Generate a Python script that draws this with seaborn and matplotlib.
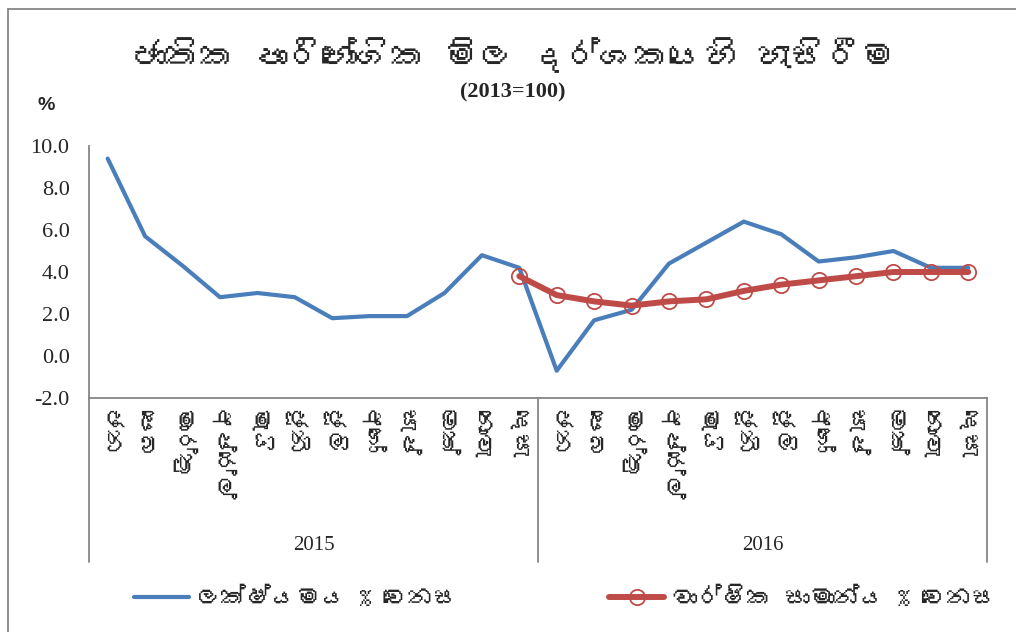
import matplotlib
matplotlib.use("Agg")
import matplotlib.pyplot as plt
import matplotlib.transforms as mtransforms
from matplotlib.lines import Line2D
from matplotlib import font_manager as fm
import seaborn as sns
import pandas as pd
import numpy as np

# Datos (variacion % del NCPI, 2013=100)
months = ["ජන", "පෙබ", "මාර්තු", "අප්රේල්", "මැයි", "ජූනි",
          "ජූලි", "අගෝ", "සැප්", "ඔක්", "නොවැ", "දෙසැ"]
years = ["2015", "2016"]
point_change = [9.4, 5.7, 4.3, 2.8, 3.0, 2.8, 1.8, 1.9, 1.9, 3.0, 4.8, 4.2,
                -0.7, 1.7, 2.2, 4.4, 5.4, 6.4, 5.8, 4.5, 4.7, 5.0, 4.2, 4.2]
annual_avg = [np.nan] * 11 + [3.8, 2.9, 2.6, 2.4, 2.6, 2.7, 3.1, 3.4, 3.6,
                              3.8, 4.0, 4.0, 4.0]

title = "ජාතික පාරිභෝගික මිල දර්ශකයෙහි හැසිරීම"
subtitle = "(2013=100)"
label_point = "ලක්ෂ්යමය % වෙනස"
label_avg = "වාර්ෂික සාමාන්ය % වෙනස"

# Buscar una fuente con glifos cingaleses (si existe)
sinhala_font = None
try:
    from fontTools.ttLib import TTFont
    for entry in fm.fontManager.ttflist:
        try:
            t = TTFont(entry.fname, fontNumber=0, lazy=True)
            cmap = t.getBestCmap()
            if cmap and 0x0D9A in cmap:
                sinhala_font = entry.name
                break
        except Exception:
            continue
except Exception:
    pass

sns.set_theme(style="white")
sin_family = ([sinhala_font] if sinhala_font else []) + ["DejaVu Sans"]
plt.rcParams["font.family"] = sin_family

df = pd.DataFrame({
    "idx": np.arange(24),
    "point": point_change,
    "avg": annual_avg,
})

fig = plt.figure(figsize=(10.16, 6.32), dpi=100)
W, H = 1016, 632
ax = fig.add_axes([89 / W, 1 - 398 / H, 898 / W, 252 / H])

blue = "#4A7EBB"
red = "#BE4B48"
sns.lineplot(data=df, x="idx", y="point", ax=ax, color=blue, linewidth=3.0)
sns.lineplot(data=df.dropna(), x="idx", y="avg", ax=ax, color=red,
             linewidth=4.3, marker="o", markersize=11, markerfacecolor="none",
             markeredgecolor=red, markeredgewidth=1.3)

ax.set_xlim(-0.5, 23.5)
ax.set_ylim(-2, 10)
ax.set_yticks(np.arange(-2, 10.1, 2))
ax.set_yticklabels([f"{v:.1f}" for v in np.arange(-2, 10.1, 2)],
                   family="Liberation Serif", fontsize=16)
ax.set_xticks(np.arange(24))
ax.set_xticklabels(months * 2, rotation=-90, fontsize=17, va="top", ha="center")
ax.tick_params(axis="both", length=0)
ax.tick_params(axis="y", pad=14)
ax.tick_params(axis="x", pad=8)
ax.set_xlabel("")
ax.set_ylabel("")

for side in ["top", "right"]:
    ax.spines[side].set_visible(False)
for side in ["left", "bottom"]:
    ax.spines[side].set_color("#868686")
    ax.spines[side].set_linewidth(1.3)

# Eje de categorias de dos niveles: separadores y anos
trans = mtransforms.blended_transform_factory(ax.transData, fig.transFigure)
for xs in [-0.5, 11.5, 23.5]:
    ax.add_line(Line2D([xs, xs], [1 - 398 / H, 1 - 562 / H], transform=trans,
                       color="#868686", linewidth=1.3, clip_on=False))
for i, yr in enumerate(years):
    ax.text(5.5 + 12 * i, 1 - 545 / H, yr, transform=trans, ha="center",
            va="center", family="Liberation Serif", fontsize=15)

# Titulos
fig.text(0.505, 1 - 55 / H, title, ha="center", va="center", fontsize=25,
         fontweight="bold")
fig.text(0.505, 1 - 92 / H, subtitle, ha="center", va="center", fontsize=16,
         fontweight="bold", family="Liberation Serif")
fig.text(46 / W, 1 - 105 / H, "%", ha="center", va="center", fontsize=14,
         fontweight="bold", family="Liberation Sans")

# Leyenda
handles = [
    Line2D([], [], color=blue, linewidth=3.0),
    Line2D([], [], color=red, linewidth=4.3, marker="o", markersize=11,
           markerfacecolor="none", markeredgecolor=red, markeredgewidth=1.3),
]
fig.legend(handles, [label_point, label_avg], loc="center left",
           bbox_to_anchor=(134 / W, 1 - 598 / H), ncol=2, frameon=False,
           fontsize=18, handlelength=2.2, handletextpad=0.3, columnspacing=6,
           borderpad=0, borderaxespad=0)

# Marco exterior (solo visible arriba e izquierda)
fig.add_artist(Line2D([8 / W, 8 / W], [0, 1 - 9 / H], transform=fig.transFigure,
                      color="#868686", linewidth=1.3))
fig.add_artist(Line2D([8 / W, 1], [1 - 9 / H, 1 - 9 / H], transform=fig.transFigure,
                      color="#868686", linewidth=1.3))

fig.savefig("out.png", dpi=100)
